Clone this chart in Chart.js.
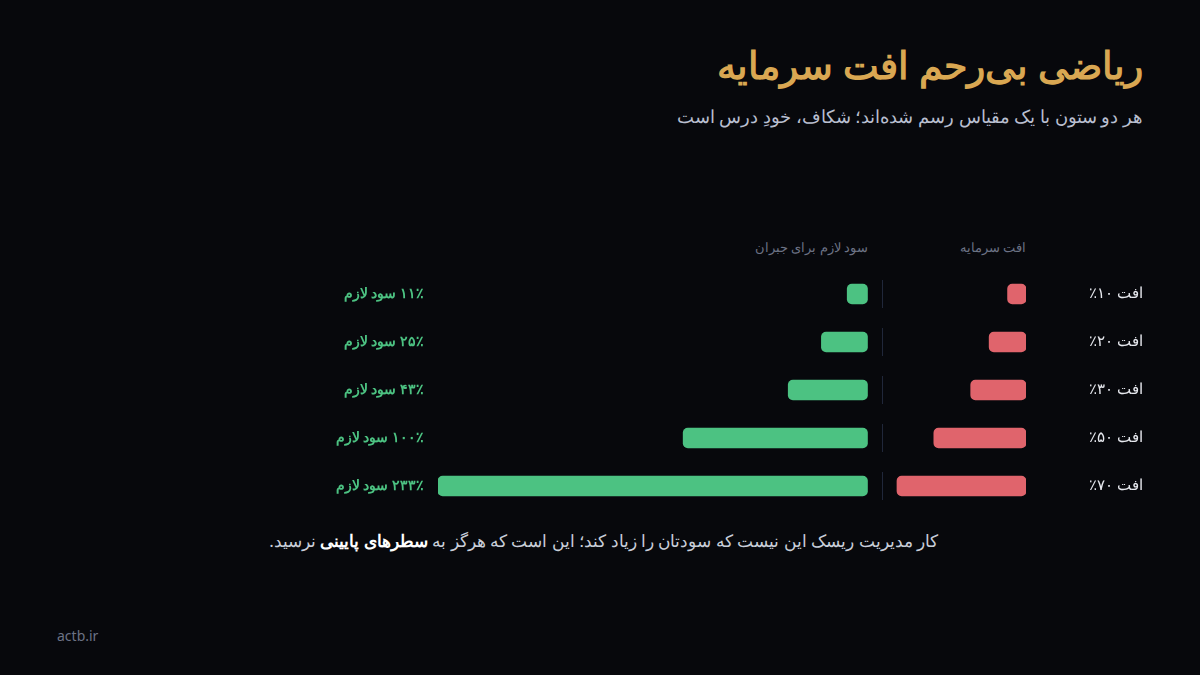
<!DOCTYPE html>
<html lang="fa" dir="rtl">
<head>
<meta charset="utf-8">
<script src="https://cdn.jsdelivr.net/npm/chart.js@4"></script>
<style>
  html, body { margin: 0; padding: 0; background: #07080c; }
  body { width: 1200px; height: 675px; position: relative; overflow: hidden; font-family: "Noto Sans", sans-serif; }
  .t { position: absolute; white-space: nowrap; }
  #title { right: 57px; top: 38px; font-size: 38px; font-weight: 700; color: #d9a752; }
  #sub { right: 57px; top: 104px; font-size: 18px; color: #b9bfd0; }
  .hdr { top: 238px; font-size: 13px; color: #6c7285; }
  #foot { right: 262px; top: 529px; font-size: 17px; color: #c9ced9; }
  #foot b { color: #ffffff; }
  #brand { left: 57px; top: 626px; font-size: 14px; color: #6c7285; direction: ltr; }
  #wrap { position: absolute; left: 0; top: 270px; width: 1200px; height: 240px; }
</style>
</head>
<body>
<div class="t" id="title">ریاضی بی‌رحم افت سرمایه</div>
<div class="t" id="sub">هر دو ستون با یک مقیاس رسم شده‌اند؛ شکاف، خودِ درس است</div>
<div class="t hdr" style="right:174px">افت سرمایه</div>
<div class="t hdr" style="right:332px">سود لازم برای جبران</div>
<div id="wrap"><canvas id="c"></canvas></div>
<div class="t" id="foot">کار مدیریت ریسک این نیست که سودتان را زیاد کند؛ این است که هرگز به <b>سطرهای پایینی</b> نرسید.</div>
<div class="t" id="brand">actb.ir</div>
<script>
const lossLabels = ["افت ۱۰٪", "افت ۲۰٪", "افت ۳۰٪", "افت ۵۰٪", "افت ۷۰٪"];
const gainLabels = ["۱۱٪ سود لازم", "۲۵٪ سود لازم", "۴۳٪ سود لازم", "۱۰۰٪ سود لازم", "۲۳۳٪ سود لازم"];
const lossValues = [10, 20, 30, 50, 70];
const gainValues = [11, 25, 43, 100, 233];
const GAP = 86; // space between the two columns, in percent units

const labelsPlugin = {
  id: "rowLabels",
  afterDatasetsDraw(chart) {
    const { ctx, scales: { x, y } } = chart;
    ctx.save();
    ctx.textBaseline = "middle";
    ctx.textAlign = "right";
    lossLabels.forEach((l, i) => {
      const py = y.getPixelForValue(i);
      ctx.font = "15px 'Noto Sans'";
      ctx.fillStyle = "#e6e8ee";
      ctx.fillText(l, 1143, py);
      ctx.font = "bold 14px 'Noto Sans'";
      ctx.fillStyle = "#4cc282";
      ctx.fillText(gainLabels[i], 424, py);
      const dx = Math.round(x.getPixelForValue(GAP - 8)) + 0.5;
      ctx.strokeStyle = "#20273a";
      ctx.lineWidth = 1;
      ctx.beginPath();
      ctx.moveTo(dx, py - 14);
      ctx.lineTo(dx, py + 14);
      ctx.stroke();
    });
    ctx.restore();
  }
};

new Chart(document.getElementById("c"), {
  type: "bar",
  data: {
    labels: lossLabels,
    datasets: [
      {
        data: lossValues.map(v => [0, v]),
        backgroundColor: "#e0646c",
        borderRadius: 5,
        borderSkipped: false,
        barThickness: 20,
        grouped: false
      },
      {
        data: gainValues.map(v => [GAP, GAP + v]),
        backgroundColor: "#4cc282",
        borderRadius: 5,
        borderSkipped: false,
        barThickness: 20,
        grouped: false
      }
    ]
  },
  options: {
    indexAxis: "y",
    responsive: true,
    maintainAspectRatio: false,
    animation: false,
    layout: { padding: { left: 438, right: 174, top: 0, bottom: 0 } },
    scales: {
      x: { reverse: true, min: 0, max: GAP + 233, display: false },
      y: { display: false }
    },
    plugins: { legend: { display: false }, tooltip: { enabled: false } }
  },
  plugins: [labelsPlugin]
});
</script>
</body>
</html>
